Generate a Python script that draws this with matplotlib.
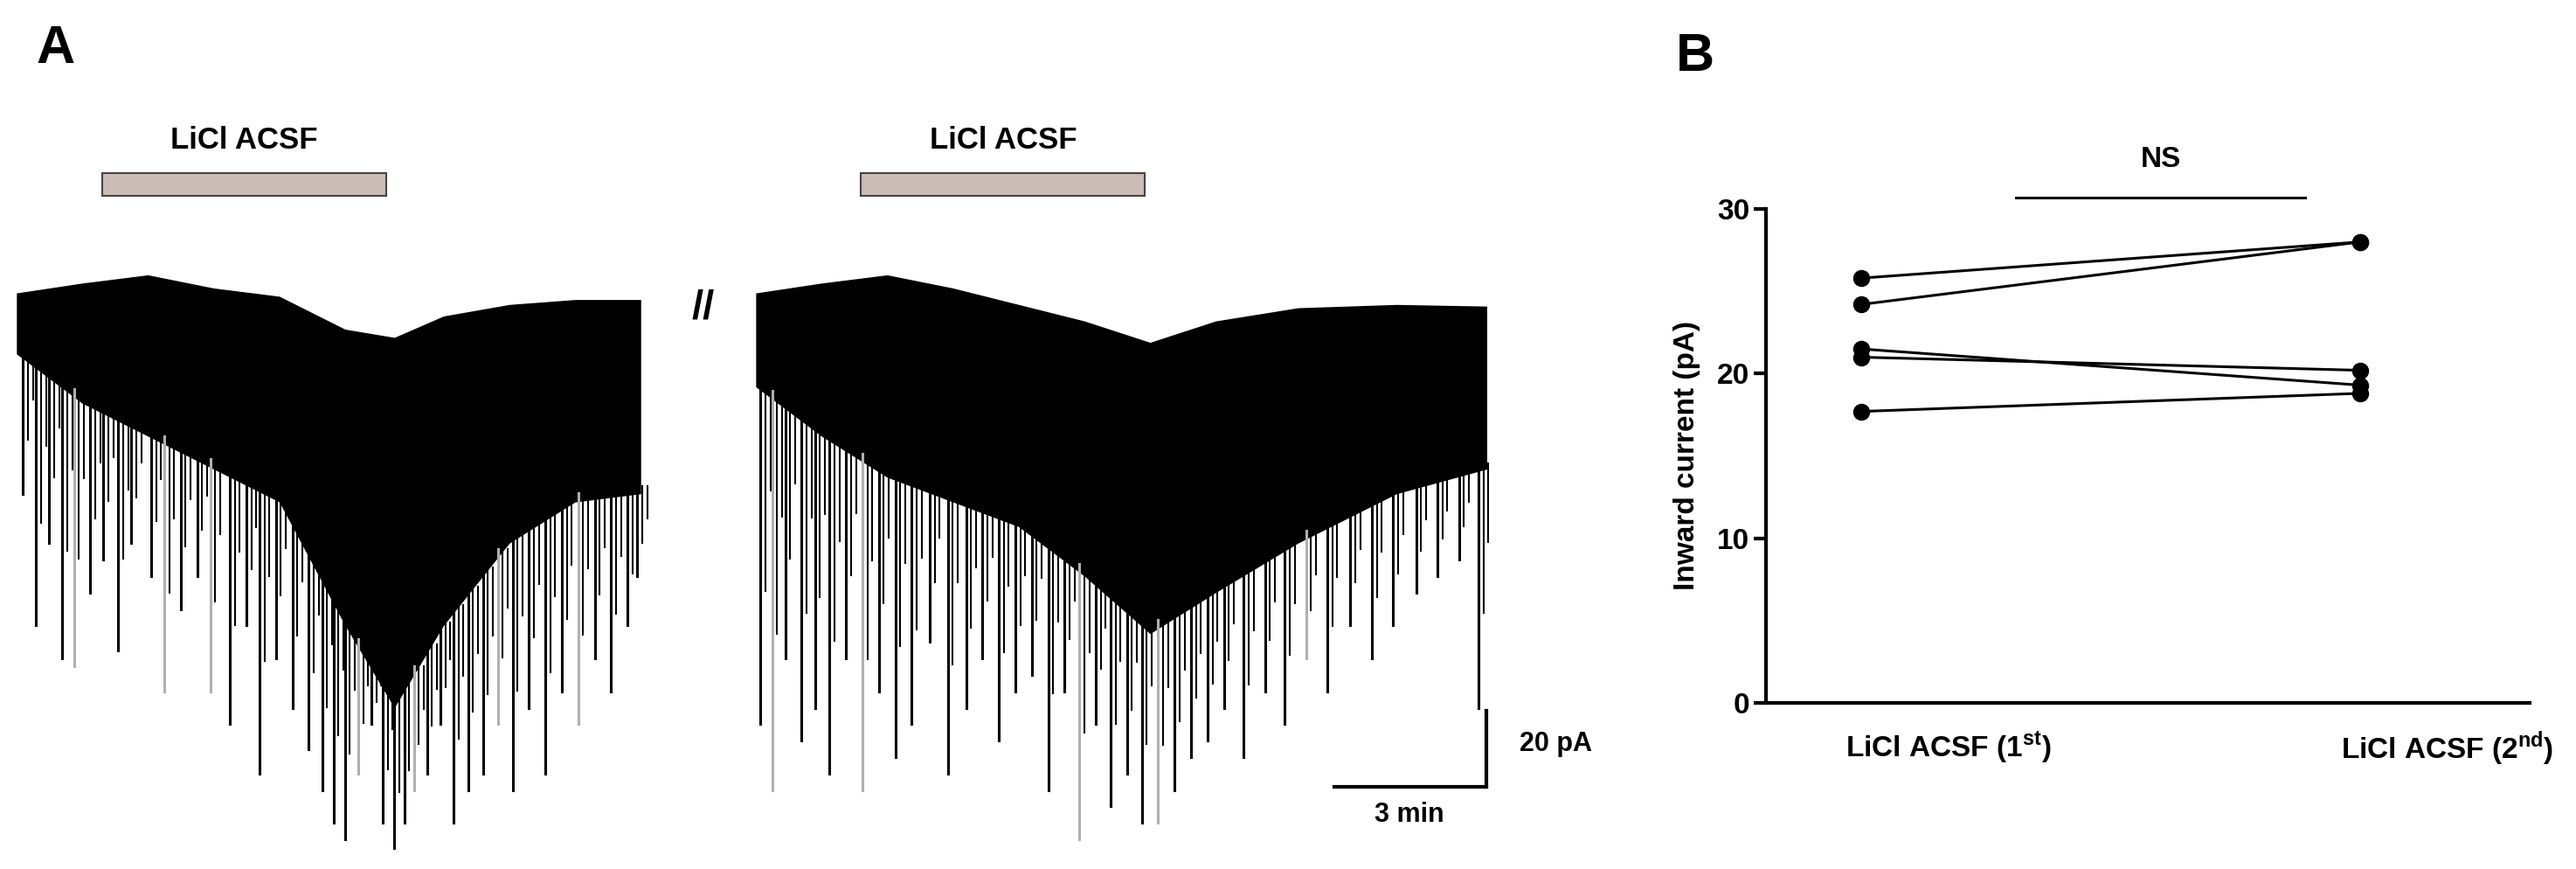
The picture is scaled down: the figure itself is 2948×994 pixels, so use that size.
import numpy as np
import matplotlib.pyplot as plt
import matplotlib.transforms as mtransforms

plt.rcParams['font.family'] = ['Liberation Sans', 'DejaVu Sans']
plt.rcParams['font.weight'] = 'bold'

# ---- panel A: trace envelopes (reference pixel units, y down)
t1_x = [10, 50, 90, 130, 170, 210, 240, 270, 310, 350, 390]
t1_top = [178, 172, 167, 175, 180, 200, 205, 192, 185, 182, 182]
t1_body = [215, 245, 265, 285, 305, 380, 430, 380, 330, 305, 300]
t2_x = [460, 500, 540, 580, 620, 660, 700, 740, 790, 850, 905]
t2_top = [178, 172, 167, 175, 185, 195, 208, 195, 187, 185, 186]
t2_body = [235, 265, 290, 305, 320, 350, 385, 360, 330, 300, 285]

# individual deep events (x position, tip depth)
t1_spk_x = [14, 22, 30, 38, 45, 55, 63, 72, 80, 92, 100, 110, 120, 128, 140, 150, 158, 168,
            178, 188, 196, 203, 210, 218, 226, 233, 240, 246, 252, 260, 268, 276, 285, 294,
            303, 312, 322, 332, 342, 352, 362, 372, 382, 388]
t1_spk_y = [300, 380, 330, 400, 405, 360, 340, 395, 330, 350, 420, 370, 350, 420, 440, 380,
            470, 400, 430, 455, 480, 500, 510, 470, 440, 500, 515, 500, 480, 470, 440, 500,
            480, 470, 440, 480, 430, 470, 420, 440, 400, 420, 380, 350]
t1_grey = [45, 100, 128, 218, 252, 303, 352]
t2_spk_x = [463, 470, 478, 488, 496, 505, 515, 525, 535, 545, 555, 566, 577, 588, 598, 608,
            618, 628, 638, 648, 657, 667, 676, 686, 695, 705, 715, 725, 735, 745, 757, 770,
            782, 795, 808, 822, 835, 848, 862, 875, 888, 900]
t2_spk_y = [440, 480, 400, 450, 430, 470, 400, 480, 420, 460, 440, 390, 470, 430, 400, 450,
            420, 410, 480, 420, 510, 440, 490, 470, 500, 500, 480, 460, 450, 430, 460, 420,
            440, 400, 420, 380, 400, 380, 360, 350, 340, 430]
t2_grey = [470, 525, 657, 705, 795]

# ---- panel B: inward current (pA)
categories = ['LiCl ACSF (1$^{\\mathregular{st}}$)', 'LiCl ACSF (2$^{\\mathregular{ nd}}$)']
first = [25.8, 24.2, 21.5, 21.0, 17.7]
second = [28.0, 28.0, 19.3, 20.2, 18.8]

W, H = 1568, 528
fig = plt.figure(figsize=(29.48, 9.94), dpi=100)
axA = fig.add_axes([0, 0, 1, 1])
axA.set_xlim(0, W)
axA.set_ylim(H, 0)
axA.axis('off')

for xs, top, body, sx, sy, grey in [(t1_x, t1_top, t1_body, t1_spk_x, t1_spk_y, t1_grey),
                                     (t2_x, t2_top, t2_body, t2_spk_x, t2_spk_y, t2_grey)]:
    axA.fill_between(xs, top, body, color='black', lw=0)
    for x, y in zip(sx, sy):
        base = np.interp(x, xs, body)
        c = '#b0b0b0' if x in grey else 'black'
        axA.plot([x, x], [base - 5, y], color=c, lw=2.2)
        axA.plot([x + 3, x + 3], [base - 5, base + (y - base) * 0.6], color='black', lw=1.5)
        axA.plot([x + 6, x + 6], [base - 5, base + (y - base) * 0.3], color='black', lw=1.5)

for x0, x1 in [(62, 235), (524, 697)]:
    axA.add_patch(plt.Rectangle((x0, 105), x1 - x0, 14, facecolor='#cbbcb6', edgecolor='#444444', lw=1.5))
    axA.text((x0 + x1) / 2, 85, 'LiCl ACSF', ha='center', va='center', fontsize=25, fontweight='bold')

axA.text(428, 187, '//', ha='center', va='center', fontsize=34, fontweight='bold')
axA.plot([812, 905], [478, 478], color='black', lw=3)
axA.plot([905, 905], [432, 478], color='black', lw=3)
axA.text(925, 452, '20 pA', ha='left', va='center', fontsize=22, fontweight='bold')
axA.text(858, 495, '3 min', ha='center', va='center', fontsize=22, fontweight='bold')
axA.text(22, 30, 'A', ha='left', va='center', fontsize=44, fontweight='bold')
axA.text(1020, 35, 'B', ha='left', va='center', fontsize=44, fontweight='bold')

axB = fig.add_axes([1075 / W, (H - 427) / H, 465 / W, 300 / H])
for a, b in zip(first, second):
    axB.plot([0, 1], [a, b], color='black', lw=2.2, marker='o', ms=13)
axB.set_xlim(-0.19, 1.34)
axB.set_ylim(0, 30)
axB.set_yticks([0, 10, 20, 30])
axB.set_xticks([0, 1])
axB.set_xticklabels(categories)
axB.tick_params(axis='y', labelsize=24, width=3, length=10)
axB.tick_params(axis='x', labelsize=24, length=0, pad=22)
shift = mtransforms.ScaledTranslation(1.0, 0, fig.dpi_scale_trans)
for lab in axB.get_xticklabels():
    lab.set_transform(lab.get_transform() + shift)
for lab in axB.get_xticklabels() + axB.get_yticklabels():
    lab.set_fontweight('bold')
axB.set_ylabel('Inward current (pA)', fontsize=24, fontweight='bold', labelpad=14)
for s in ['top', 'right']:
    axB.spines[s].set_visible(False)
for s in ['left', 'bottom']:
    axB.spines[s].set_linewidth(3)
axB.plot([0.31, 0.89], [30.7, 30.7], color='black', lw=2.2, clip_on=False)
axB.text(0.6, 32.2, 'NS', ha='center', va='bottom', fontsize=24, fontweight='bold')

fig.savefig('out.png', dpi=100)
